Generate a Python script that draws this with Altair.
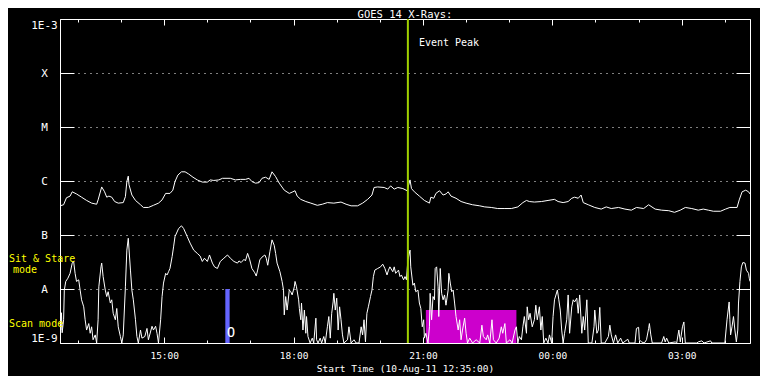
import altair as alt
import pandas as pd

# ---- data ----
# time = minutes after start (10-Aug-11 12:35), value = log10 of X-ray flux (W/m^2)
long_channel = [
    (0, -6.46), (5, -6.44), (9, -6.31), (14, -6.28), (17, -6.20), (23, -6.24), (30, -6.30), (37, -6.36),
    (44, -6.41), (51, -6.43), (53, -6.35), (58, -6.11), (62, -6.20), (65, -6.30), (68, -6.28), (72, -6.30),
    (76, -6.38), (81, -6.41), (88, -6.40), (91, -6.29), (93, -6.01), (95, -5.91), (96, -6.07), (100, -6.26),
    (105, -6.36), (112, -6.44), (116, -6.49), (123, -6.49), (130, -6.45), (137, -6.41), (142, -6.35),
    (147, -6.23), (153, -6.23), (157, -6.17), (160, -6.01), (164, -5.89), (169, -5.83), (174, -5.83),
    (179, -5.87), (185, -5.93), (191, -5.98), (198, -6.02), (205, -6.02), (209, -5.98), (214, -5.99),
    (221, -5.98), (226, -5.95), (237, -5.95), (244, -5.98), (251, -5.97), (258, -5.97), (263, -5.95),
    (267, -6.01), (272, -6.04), (277, -6.03), (281, -5.95), (286, -5.93), (291, -5.97), (295, -5.83),
    (300, -5.92), (305, -6.04), (312, -6.17), (319, -6.23), (324, -6.20), (327, -6.18), (330, -6.28),
    (335, -6.34), (342, -6.38), (349, -6.41), (358, -6.45), (365, -6.43), (372, -6.40), (381, -6.41),
    (391, -6.39), (398, -6.43), (405, -6.46), (414, -6.46), (421, -6.41), (428, -6.34), (434, -6.26),
    (437, -6.12), (442, -6.11), (451, -6.12), (456, -6.15), (460, -6.09), (465, -6.15), (470, -6.12),
    (477, -6.14), (483, -6.18), (487, -5.98), (489, -6.14), (493, -6.20), (500, -6.28), (507, -6.36),
    (514, -6.41), (516, -6.30), (520, -6.32), (523, -6.23), (528, -6.18), (533, -6.26), (537, -6.24),
    (540, -6.20), (544, -6.28), (551, -6.32), (558, -6.38), (565, -6.41), (574, -6.44), (584, -6.46),
    (591, -6.48), (600, -6.49), (609, -6.51), (619, -6.51), (628, -6.51), (637, -6.48), (644, -6.40),
    (649, -6.36), (653, -6.38), (660, -6.39), (670, -6.38), (679, -6.36), (688, -6.34), (693, -6.38),
    (700, -6.40), (707, -6.38), (712, -6.32), (716, -6.30), (721, -6.32), (725, -6.26), (728, -6.40),
    (735, -6.44), (744, -6.49), (753, -6.52), (760, -6.48), (767, -6.51), (777, -6.49), (786, -6.52),
    (795, -6.54), (802, -6.49), (812, -6.51), (819, -6.44), (828, -6.52), (837, -6.54), (847, -6.55),
    (855, -6.58), (863, -6.54), (870, -6.49), (879, -6.51), (888, -6.54), (895, -6.52), (902, -6.54),
    (909, -6.56), (919, -6.56), (926, -6.52), (932, -6.49), (942, -6.49), (945, -6.35), (949, -6.20),
    (954, -6.17), (958, -6.20), (960, -6.24),
]

short_channel = [
    (0, -8.39), (1, -8.76), (2, -8.44), (3, -8.81), (5, -8.57), (6, -8.02), (8, -7.86), (11, -7.80),
    (14, -7.71), (17, -7.52), (19, -7.49), (21, -7.71), (23, -7.86), (26, -7.83), (28, -8.02), (30, -8.20),
    (33, -8.33), (35, -8.57), (37, -8.76), (40, -8.64), (42, -8.82), (44, -8.70), (46, -8.94), (49, -8.85),
    (51, -9.0), (53, -8.57), (54, -7.96), (57, -7.59), (58, -7.52), (60, -7.77), (63, -8.02), (65, -8.14),
    (67, -8.05), (70, -8.26), (72, -8.20), (74, -8.45), (77, -8.57), (79, -8.36), (81, -8.70), (84, -8.88),
    (86, -9.0), (88, -8.85), (91, -7.96), (93, -7.28), (95, -7.06), (98, -7.65), (100, -8.02), (102, -8.20),
    (105, -8.57), (107, -8.88), (109, -9.0), (112, -8.76), (114, -8.91), (118, -8.88), (121, -8.73),
    (123, -8.94), (128, -8.69), (130, -8.76), (133, -8.69), (135, -8.82), (137, -9.0), (140, -8.57),
    (142, -8.14), (144, -7.89), (147, -7.71), (149, -7.74), (151, -7.68), (153, -7.62), (156, -7.40),
    (158, -7.22), (160, -7.03), (165, -6.88), (169, -6.83), (172, -6.88), (177, -7.03), (181, -7.15),
    (186, -7.28), (191, -7.34), (195, -7.39), (198, -7.49), (201, -7.43), (205, -7.49), (208, -7.37),
    (212, -7.52), (215, -7.59), (219, -7.62), (223, -7.49), (228, -7.43), (233, -7.37), (237, -7.43),
    (242, -7.49), (247, -7.52), (249, -7.48), (252, -7.51), (256, -7.45), (258, -7.48), (261, -7.34),
    (264, -7.46), (267, -7.62), (271, -7.70), (273, -7.76), (275, -7.65), (278, -7.46), (281, -7.41),
    (285, -7.37), (287, -7.43), (289, -7.56), (292, -7.31), (295, -7.09), (298, -7.19), (300, -7.34),
    (302, -7.52), (306, -7.68), (309, -7.86), (311, -8.02), (312, -8.48), (314, -8.14), (316, -8.39),
    (319, -8.02), (321, -8.05), (323, -8.11), (326, -7.96), (327, -7.86), (329, -7.96), (332, -8.20),
    (333, -8.36), (335, -8.57), (336, -8.26), (338, -8.76), (340, -8.39), (342, -8.82), (343, -8.51),
    (345, -8.88), (348, -9.0), (351, -8.91), (353, -9.0), (356, -8.54), (357, -8.94), (359, -9.0),
    (362, -8.91), (364, -9.0), (367, -8.88), (369, -9.0), (372, -8.70), (374, -8.51), (376, -8.91),
    (378, -8.45), (380, -8.24), (381, -8.08), (383, -8.39), (385, -8.17), (387, -8.76), (389, -8.33),
    (391, -8.57), (393, -8.85), (395, -9.0), (400, -8.94), (402, -8.70), (405, -9.0), (409, -8.94),
    (412, -9.0), (416, -9.0), (419, -8.70), (421, -8.85), (423, -8.57), (425, -8.98), (427, -8.45),
    (429, -8.33), (432, -8.14), (434, -8.02), (436, -7.77), (438, -7.65), (442, -7.62), (446, -7.59),
    (449, -7.54), (452, -7.62), (455, -7.74), (457, -7.65), (459, -7.59), (463, -7.68), (465, -7.59),
    (467, -7.71), (471, -7.65), (473, -7.77), (475, -7.74), (478, -7.83), (480, -7.77), (482, -7.83),
    (484, -7.46), (487, -7.28), (488, -7.59), (491, -7.93), (493, -7.89), (495, -8.05), (498, -8.02),
    (500, -8.26), (502, -8.36), (504, -8.70), (506, -8.57), (507, -8.91), (509, -8.82), (512, -9.0),
    (514, -8.70), (515, -8.08), (517, -8.57), (519, -8.14), (521, -8.20), (522, -7.62), (524, -7.59),
    (526, -7.96), (527, -8.51), (529, -7.62), (531, -8.08), (533, -8.20), (535, -8.11), (537, -8.30),
    (540, -8.02), (541, -7.71), (543, -7.89), (545, -8.05), (547, -8.02), (549, -8.26), (551, -8.51),
    (554, -8.76), (556, -8.57), (558, -8.94), (560, -8.76), (563, -8.54), (565, -8.82), (567, -9.0),
    (570, -8.91), (574, -9.0), (579, -8.94), (584, -9.0), (587, -8.67), (589, -8.88), (593, -8.94),
    (595, -8.85), (598, -9.0), (601, -8.57), (603, -8.94), (607, -9.0), (611, -8.91), (614, -8.70),
    (616, -8.82), (619, -8.64), (621, -9.0), (626, -8.94), (629, -9.0), (633, -8.76), (635, -8.70),
    (637, -9.0), (639, -8.88), (642, -8.94), (644, -8.70), (646, -8.51), (649, -8.82), (650, -8.33),
    (652, -8.57), (654, -8.45), (657, -8.70), (660, -8.57), (662, -8.30), (664, -8.57), (667, -8.33),
    (669, -8.76), (671, -8.51), (673, -9.0), (676, -8.91), (679, -9.0), (681, -8.85), (684, -9.0),
    (686, -8.51), (688, -8.20), (692, -8.02), (694, -8.20), (696, -8.39), (698, -8.76), (700, -9.0),
    (702, -8.82), (705, -8.57), (707, -8.11), (709, -8.82), (712, -8.33), (714, -8.20), (716, -8.24),
    (719, -8.17), (721, -8.45), (723, -8.11), (726, -8.82), (728, -8.51), (730, -8.76), (733, -8.20),
    (735, -9.0), (740, -9.0), (743, -8.70), (744, -8.39), (747, -8.82), (749, -8.76), (751, -8.34),
    (753, -9.0), (758, -9.0), (763, -8.88), (765, -8.67), (767, -8.85), (770, -9.0), (773, -8.85),
    (776, -9.0), (780, -8.91), (783, -9.0), (790, -8.93), (792, -9.0), (800, -9.0), (802, -8.73),
    (805, -8.71), (806, -8.94), (809, -8.98), (813, -9.0), (816, -8.94), (819, -8.73), (820, -8.64),
    (822, -8.85), (824, -9.0), (837, -9.0), (840, -8.88), (842, -8.98), (844, -8.91), (847, -9.0),
    (856, -8.98), (858, -9.0), (861, -8.76), (863, -8.98), (866, -8.70), (868, -8.61), (870, -9.0),
    (886, -9.0), (888, -8.98), (893, -8.96), (896, -9.0), (905, -8.96), (907, -9.0), (925, -9.0),
    (928, -8.57), (931, -8.24), (932, -8.57), (933, -8.85), (935, -8.70), (937, -8.51), (939, -8.76),
    (941, -8.98), (943, -8.76), (944, -8.26), (946, -7.86), (948, -7.59), (950, -7.51), (953, -7.52),
    (955, -7.65), (958, -7.71), (959, -7.80), (960, -7.86),
]

time_span = [0, 960]                       # 12:35 -> 04:35 next day
hour_ticks = list(range(25, 960, 60))      # every full hour
major_ticks = [145, 325, 505, 685, 865]
major_labels = ["15:00", "18:00", "21:00", "00:00", "03:00"]
flux_exponents = [-9, -8, -7, -6, -5, -4, -3]
flux_labels = ["1E-9", "A", "B", "C", "M", "X", "1E-3"]
chart_title = ("GOES 14 X-Rays:", 480, -2.975)   # text, time, log flux (just above the frame)
event_peak_t = 484
event_label = ("Event Peak", -3.44)
scan_window = (509, 635, -9.0, -8.39)      # t0, t1, log f0, log f1
marker_bar = (230, 236, -9.0, -8.0)
marker_circle = (238, -8.81)
mode_texts = [("Sit & Stare", -7.44), ("mode", -7.65), ("Scan mode", -8.65)]

FONT = "DejaVu Sans Mono"

df_long = pd.DataFrame(long_channel, columns=["t", "lf"])
df_long["f"] = 10 ** df_long["lf"]
df_long["i"] = range(len(df_long))
df_short = pd.DataFrame(short_channel, columns=["t", "lf"])
df_short["f"] = 10 ** df_short["lf"]
df_short["i"] = range(len(df_short))

xs = alt.Scale(domain=time_span, nice=False, zero=False)
ys = alt.Scale(type="log", domain=[1e-9, 1e-3], nice=False)

x_expr = "''"
for v, l in reversed(list(zip(major_ticks, major_labels))):
    x_expr = f"datum.value == {v} ? '{l}' : {x_expr}"
y_expr = "''"
for e, l in reversed(list(zip(flux_exponents, flux_labels))):
    y_expr = f"round(log(datum.value)/LN10) == {e} ? '{l}' : {y_expr}"
levels = [10.0 ** e for e in flux_exponents]


def tick_axis(orient, values, size):
    return alt.Axis(orient=orient, values=values, tickSize=size, offset=-size,
                    labels=False, domain=False, grid=False, title=None,
                    ticks=True, tickColor="white", tickWidth=1)


# scan-mode window
scan = alt.Chart(pd.DataFrame([scan_window], columns=["t0", "t1", "l0", "l1"])).transform_calculate(
    f0="pow(10, datum.l0)", f1="pow(10, datum.l1)"
).mark_rect(color="#cc00cc").encode(
    x=alt.X("t0:Q", scale=xs, axis=tick_axis("top", hour_ticks, 3)),
    x2="t1:Q",
    y=alt.Y("f0:Q", scale=ys, axis=None),
    y2="f1:Q",
)

bar = alt.Chart(pd.DataFrame([marker_bar], columns=["t0", "t1", "l0", "l1"])).transform_calculate(
    f0="pow(10, datum.l0)", f1="pow(10, datum.l1)"
).mark_rect(color="#6464ff").encode(
    x=alt.X("t0:Q", scale=xs, axis=tick_axis("top", major_ticks, 6)),
    x2="t1:Q",
    y=alt.Y("f0:Q", scale=ys, axis=None),
    y2="f1:Q",
)

long_line = alt.Chart(df_long).mark_line(color="white", strokeWidth=1, clip=True).encode(
    x=alt.X("t:Q", scale=xs, axis=alt.Axis(
        orient="bottom", values=major_ticks, labelExpr=x_expr, ticks=False, tickSize=0,
        domain=False, grid=False, labelPadding=7, labelColor="white", labelFont=FONT,
        labelFontSize=9.5, labelFlush=False, title="Start Time (10-Aug-11 12:35:00)",
        titleColor="white", titleFont=FONT, titleFontSize=9.5, titleFontWeight="normal",
        titlePadding=4)),
    y=alt.Y("f:Q", scale=ys, axis=alt.Axis(
        orient="left", values=levels, labelExpr=y_expr, ticks=False, tickSize=0,
        domain=False, grid=True, gridColor="white", gridDash=[1, 5], gridWidth=1,
        labelAlign="center", labelPadding=16, labelColor="white", labelFont=FONT,
        labelFontSize=11, labelFlush=True, title=None)),
    order="i:Q",
)

short_line = alt.Chart(df_short).mark_line(color="white", strokeWidth=1, clip=True).encode(
    x=alt.X("t:Q", scale=xs, axis=tick_axis("bottom", hour_ticks, 3)),
    y=alt.Y("f:Q", scale=ys, axis=tick_axis("left", levels, 14)),
    order="i:Q",
)

peak = alt.Chart(pd.DataFrame({"t": [event_peak_t], "f0": [1e-9], "f1": [1e-3]})).mark_rule(
    color="#a0d000", strokeWidth=2
).encode(
    x=alt.X("t:Q", scale=xs, axis=tick_axis("bottom", major_ticks, 6)),
    y=alt.Y("f0:Q", scale=ys, axis=tick_axis("right", levels, 14)),
    y2="f1:Q",
)

peak_text = alt.Chart(pd.DataFrame({"t": [event_peak_t], "f": [10 ** event_label[1]], "s": [event_label[0]]})).mark_text(
    align="left", baseline="middle", dx=11, color="white", font=FONT, fontSize=10
).encode(
    x=alt.X("t:Q", scale=xs, axis=None),
    y=alt.Y("f:Q", scale=ys, axis=None),
    text="s:N",
)

title_text = alt.Chart(pd.DataFrame({"t": [chart_title[1]], "f": [10 ** chart_title[2]], "s": [chart_title[0]]})).mark_text(
    align="center", baseline="alphabetic", color="white", font=FONT, fontSize=10.5
).encode(
    x=alt.X("t:Q", scale=xs, axis=None),
    y=alt.Y("f:Q", scale=ys, axis=None),
    text="s:N",
)

circle = alt.Chart(pd.DataFrame({"t": [marker_circle[0]], "f": [10 ** marker_circle[1]], "s": ["O"]})).mark_text(
    align="center", baseline="middle", color="white", font=FONT, fontSize=14
).encode(
    x=alt.X("t:Q", scale=xs, axis=None),
    y=alt.Y("f:Q", scale=ys, axis=None),
    text="s:N",
)

df_modes = pd.DataFrame(mode_texts, columns=["s", "lf"])
df_modes["f"] = 10 ** df_modes["lf"]
mode_main = alt.Chart(df_modes[df_modes["s"] != "mode"]).mark_text(
    align="left", baseline="middle", color="#ffff00", font=FONT, fontSize=10
).encode(
    x=alt.value(-51),
    y=alt.Y("f:Q", scale=ys, axis=None),
    text="s:N",
)
mode_sub = alt.Chart(df_modes[df_modes["s"] == "mode"]).mark_text(
    align="left", baseline="middle", color="#ffff00", font=FONT, fontSize=10
).encode(
    x=alt.value(-47),
    y=alt.Y("f:Q", scale=ys, axis=None),
    text="s:N",
)

chart = alt.layer(
    scan, bar, long_line, short_line, peak, peak_text, title_text, circle, mode_main, mode_sub
).resolve_axis(x="independent", y="independent").properties(
    width=690, height=324,
    autosize=alt.AutoSizeParams(type="none"),
    padding={"left": 52, "top": 11, "right": 10, "bottom": 33},
).configure(background="black").configure_view(stroke="white", strokeWidth=1)

chart.save("out.html", embed_options={"renderer": "svg", "actions": False})
